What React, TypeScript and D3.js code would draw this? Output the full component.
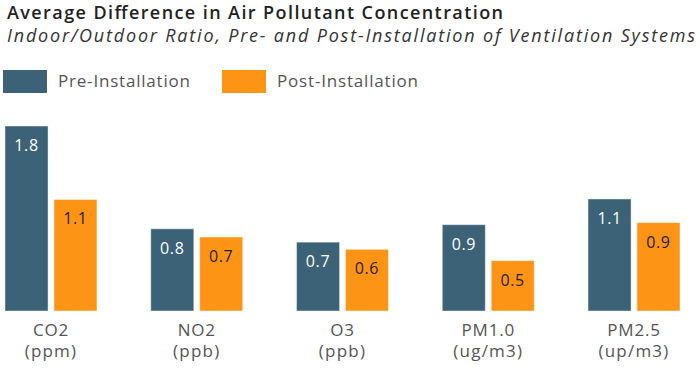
import React, { useEffect, useRef } from "react";
import * as d3 from "d3";

const pollutants = ["CO2", "NO2", "O3", "PM1.0", "PM2.5"];
const units = ["(ppm)", "(ppb)", "(ppb)", "(ug/m3)", "(up/m3)"];
const seriesNames = ["Pre-Installation", "Post-Installation"];
const preValues = [1.8, 0.8, 0.67, 0.84, 1.09];
const postValues = [1.085, 0.72, 0.6, 0.49, 0.86];
const preLabels = ["1.8", "0.8", "0.7", "0.9", "1.1"];
const postLabels = ["1.1", "0.7", "0.6", "0.5", "0.9"];

const colors = ["#3b6276", "#fe9416"];
const labelColors = ["#ffffff", "#222222"];
const font = "'Open Sans', sans-serif";

export default function App() {
  const ref = useRef<SVGSVGElement>(null);

  useEffect(() => {
    const width = 700;
    const height = 369;
    const baseline = 311;
    const svg = d3.select(ref.current).attr("width", width).attr("height", height);
    svg.selectAll("*").remove();

    // titles (Gotham-like width, stretched with spacing)
    svg.append("text")
      .attr("x", 7).attr("y", 19)
      .attr("textLength", 496).attr("lengthAdjust", "spacing")
      .style("font-family", font).style("font-size", "18px").style("font-weight", 600)
      .attr("fill", "#222")
      .text("Average Difference in Air Pollutant Concentration");
    svg.append("text")
      .attr("x", 7).attr("y", 42)
      .attr("textLength", 688).attr("lengthAdjust", "spacing")
      .style("font-family", font).style("font-size", "18px").style("font-style", "italic")
      .attr("fill", "#333")
      .text("Indoor/Outdoor Ratio, Pre- and Post-Installation of Ventilation Systems");

    // legend
    const legendX = [3, 222];
    const legendLen = [132, 141];
    seriesNames.forEach((name, i) => {
      svg.append("rect")
        .attr("x", legendX[i]).attr("y", 70).attr("width", 44).attr("height", 23)
        .attr("fill", colors[i]);
      svg.append("text")
        .attr("x", legendX[i] + 55).attr("y", 87)
        .attr("textLength", legendLen[i]).attr("lengthAdjust", "spacing")
        .style("font-family", font).style("font-size", "17px")
        .attr("fill", "#555")
        .text(name);
    });

    const x0 = d3.scaleBand().domain(pollutants).range([5, 680]).paddingInner(0.369).paddingOuter(0);
    const x1 = d3.scaleBand().domain(["pre", "post"]).range([0, x0.bandwidth()]).paddingInner(0.12);
    const y = d3.scaleLinear().domain([0, 1.8]).range([baseline, baseline - 185]);

    const rows = pollutants.map((p, i) => ({
      p,
      unit: units[i],
      bars: [
        { key: "pre", value: preValues[i], label: preLabels[i], s: 0 },
        { key: "post", value: postValues[i], label: postLabels[i], s: 1 },
      ],
    }));

    const groups = svg.selectAll("g.grp").data(rows).enter().append("g")
      .attr("class", "grp")
      .attr("transform", d => `translate(${x0(d.p)},0)`);

    groups.selectAll("rect").data(d => d.bars).enter().append("rect")
      .attr("x", d => x1(d.key)!)
      .attr("y", d => y(d.value))
      .attr("width", x1.bandwidth())
      .attr("height", d => baseline - y(d.value))
      .attr("fill", d => colors[d.s])
      .attr("stroke", "#fff").attr("stroke-opacity", 0.45).attr("stroke-width", 1);

    groups.selectAll("text.val").data(d => d.bars).enter().append("text")
      .attr("class", "val")
      .attr("x", d => x1(d.key)! + x1.bandwidth() / 2)
      .attr("y", d => y(d.value) + 25)
      .attr("text-anchor", "middle")
      .style("font-family", font).style("font-size", "16px").style("font-weight", 500)
      .style("letter-spacing", "0.6px")
      .attr("fill", d => labelColors[d.s])
      .text(d => d.label);

    groups.append("text")
      .attr("x", x0.bandwidth() / 2).attr("y", 336)
      .attr("text-anchor", "middle")
      .style("font-family", font).style("font-size", "17px").style("letter-spacing", "0.8px")
      .attr("fill", "#555")
      .text(d => d.p);
    groups.append("text")
      .attr("x", x0.bandwidth() / 2).attr("y", 357)
      .attr("text-anchor", "middle")
      .style("font-family", font).style("font-size", "17px").style("letter-spacing", "1.2px")
      .attr("fill", "#555")
      .text(d => d.unit);
  }, []);

  return <svg ref={ref} style={{ position: "absolute", left: 0, top: 0 }} />;
}
